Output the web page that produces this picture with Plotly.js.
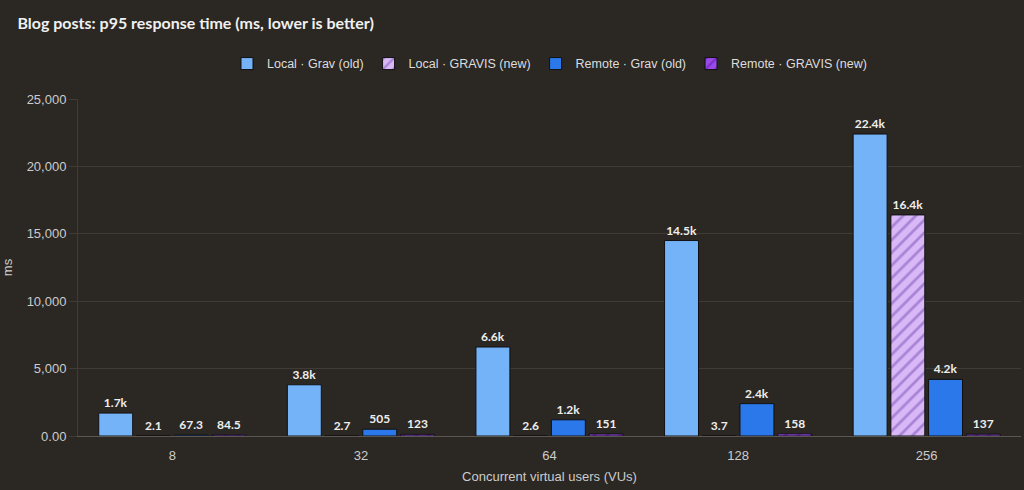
<!DOCTYPE html>
<html>
<head>
<meta charset="utf-8">
<script src="https://cdn.plot.ly/plotly-3.0.1.min.js"></script>
<style>
html,body{margin:0;padding:0;background:#2b2723;}
#chart{width:1024px;height:490px;}
</style>
</head>
<body>
<div id="chart"></div>
<script>
const categories = ["8", "32", "64", "128", "256"];
const seriesNames = ["Local · Grav (old)", "Local · GRAVIS (new)", "Remote · Grav (old)", "Remote · GRAVIS (new)"];
const valuesLocalGrav = [1700, 3800, 6600, 14500, 22400];
const valuesLocalGravis = [2.1, 2.7, 2.6, 3.7, 16400];
const valuesRemoteGrav = [67.3, 505, 1200, 2400, 4200];
const valuesRemoteGravis = [84.5, 123, 151, 158, 137];
const labelsLocalGrav = ["1.7k", "3.8k", "6.6k", "14.5k", "22.4k"];
const labelsLocalGravis = ["2.1", "2.7", "2.6", "3.7", "16.4k"];
const labelsRemoteGrav = ["67.3", "505", "1.2k", "2.4k", "4.2k"];
const labelsRemoteGravis = ["84.5", "123", "151", "158", "137"];
const yTickVals = [0, 5000, 10000, 15000, 20000, 25000];
const yTickText = ["0.00", "5,000", "10,000", "15,000", "20,000", "25,000"];

const labelFont = {family: "Lato, sans-serif", size: 12, color: "#eeeeee", weight: 700};
function mk(name, y, text, color, pattern) {
  const t = {
    type: "bar", name: name, x: categories, y: y, text: text,
    textposition: "outside", textangle: 0, constraintext: "none", cliponaxis: false,
    textfont: labelFont,
    hoverinfo: "x+y+name",
    marker: {color: color, line: {color: "#111111", width: 1}}
  };
  if (pattern) t.marker.pattern = pattern;
  return t;
}
const data = [
  mk(seriesNames[0], valuesLocalGrav, labelsLocalGrav, "#75b3f8"),
  mk(seriesNames[1], valuesLocalGravis, labelsLocalGravis, "#d8b8f6",
     {shape: "/", fgcolor: "#a883d6", bgcolor: "#d8b8f6", size: 9, solidity: 0.3}),
  mk(seriesNames[2], valuesRemoteGrav, labelsRemoteGrav, "#2b78ea"),
  mk(seriesNames[3], valuesRemoteGravis, labelsRemoteGravis, "#9a4ae8",
     {shape: "/", fgcolor: "#7a2ed0", bgcolor: "#9a4ae8", size: 9, solidity: 0.3})
];
const axisFont = {family: "Liberation Sans, Arial, sans-serif", size: 13, color: "#cccccc"};
const layout = {
  width: 1024, height: 490,
  paper_bgcolor: "#2b2723", plot_bgcolor: "#2b2723",
  margin: {l: 78, r: 3, t: 99, b: 54},
  title: {text: "<b>Blog posts: p95 response time (ms, lower is better)</b>", x: 0.017, xanchor: "left", y: 0.953, yanchor: "middle",
          font: {family: "Lato, sans-serif", size: 16, color: "#f0f0f0"}},
  legend: {orientation: "h", x: 0.5, xanchor: "center", y: 1.104, yanchor: "middle",
           font: {family: "Liberation Sans, Arial, sans-serif", size: 12.5, color: "#dddddd"},
           traceorder: "normal", bgcolor: "rgba(0,0,0,0)"},
  barmode: "group", bargap: 0.2, bargroupgap: 0.1,
  xaxis: {
    title: {text: "Concurrent virtual users (VUs)", font: axisFont, standoff: 10},
    tickfont: axisFont,
    showgrid: false, linecolor: "#5a5652", showline: true,
    ticks: "outside", ticklen: 7, tickcolor: "rgba(0,0,0,0)", type: "category"
  },
  yaxis: {
    title: {text: "ms", font: axisFont, standoff: 16},
    range: [0, 25000], tickvals: yTickVals, ticktext: yTickText,
    tickfont: axisFont,
    gridcolor: "#403b37", zeroline: true, zerolinecolor: "#5a5652",
    ticks: "outside", ticklen: 8, tickcolor: "#403b37",
    showline: true, linecolor: "#403b37"
  },
  font: {family: "Liberation Sans, Arial, sans-serif", color: "#cccccc"},
  showlegend: true
};
Plotly.newPlot("chart", data, layout, {displayModeBar: false, staticPlot: true});
</script>
</body>
</html>
